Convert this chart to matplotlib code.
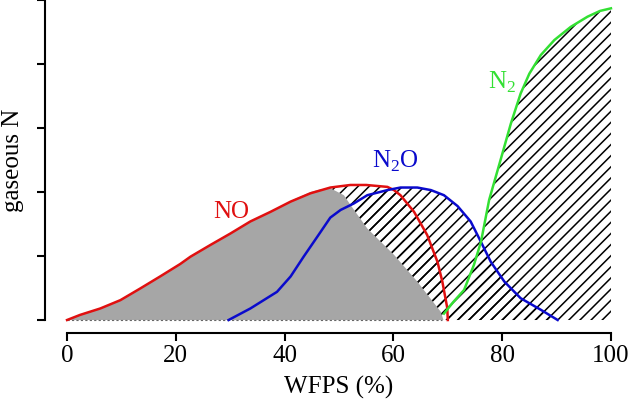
import numpy as np
import matplotlib
matplotlib.use('Agg')
import matplotlib.pyplot as plt

plt.rcParams['font.family'] = ['Liberation Serif', 'DejaVu Serif']
plt.rcParams['mathtext.fontset'] = 'custom'
plt.rcParams['mathtext.rm'] = 'Liberation Serif'
plt.rcParams['hatch.color'] = 'black'
plt.rcParams['hatch.linewidth'] = 1.1

# curves (x = WFPS %, y = arbitrary units)
no_x = [0, 2.4, 6.1, 9.8, 13.4, 17.1, 20.8, 22.7, 26.3, 30, 33.7, 37.4, 41.1, 44.75,
        48.4, 52.1, 55, 58.9, 60.1, 61.3, 63.8, 66.2, 68.1, 69.0, 69.9, 70]
no_y = [0, 0.08, 0.18, 0.31, 0.49, 0.68, 0.875, 0.99, 1.17, 1.35, 1.54, 1.69, 1.85, 1.98,
        2.07, 2.11, 2.11, 2.08, 2.03, 1.95, 1.69, 1.33, 0.91, 0.60, 0.19, 0]

n2o_x = [29.7, 33.7, 38.6, 41.1, 43.5, 46, 48.4, 50.3, 52.7, 55.2, 58.9, 61.3, 64.4, 66.9,
         69.3, 71.8, 74.2, 76.1, 77.9, 80.4, 83.4, 87.1, 90.2]
n2o_y = [0, 0.18, 0.44, 0.68, 0.99, 1.30, 1.60, 1.72, 1.82, 1.95, 2.03, 2.07, 2.07, 2.03,
         1.95, 1.78, 1.54, 1.22, 0.91, 0.60, 0.34, 0.16, 0]

n2_x = [69.3, 71, 73, 74.8, 76.1, 77.6, 79.7, 81.6, 83.4, 85, 87.1, 89.6, 92.6, 95.7, 98, 100]
n2_y = [0.10, 0.28, 0.47, 0.86, 1.22, 1.875, 2.5, 3.07, 3.54, 3.85, 4.14, 4.375, 4.58, 4.74, 4.83, 4.87]

gray_x = [0, 2.4, 6.1, 9.8, 13.4, 17.1, 20.8, 22.7, 26.3, 30, 33.7, 37.4, 41.1, 44.75,
          46.5, 48.4, 50.9, 52.1, 55.2, 60.1, 64.4, 68.7, 69.2]
gray_y = [0, 0.08, 0.18, 0.31, 0.49, 0.68, 0.875, 0.99, 1.17, 1.35, 1.54, 1.69, 1.86, 2.0,
          2.04, 2.06, 1.95, 1.80, 1.43, 1.02, 0.60, 0.13, 0]

xticks = [0, 20, 40, 60, 80, 100]
yticks = [0, 1, 2, 3, 4, 5]

red = '#e01010'
blue = '#0a0acc'
green = '#33e033'

fig = plt.figure(figsize=(6.3, 4.08), dpi=100)
ax = fig.add_axes([0.0719, 0.1843, 0.9324, 0.847])

# hatched area under all three curves, grey area drawn over it
for xs, ys in [(no_x, no_y), (n2o_x, n2o_y), (n2_x + [100], n2_y + [0])]:
    ax.fill_between(xs, ys, 0, facecolor='none', edgecolor='black', linewidth=0, hatch='///', zorder=1)
ax.fill_between(gray_x, gray_y, 0, facecolor='#a6a6a6', edgecolor='none', zorder=2)
ax.plot([0, 69], [0, 0], color='#666666', lw=0.8, dashes=(2, 2), zorder=2.5)

ax.plot(no_x, no_y, color=red, lw=1.8, zorder=3, solid_joinstyle='round')
ax.plot(n2o_x, n2o_y, color=blue, lw=1.8, zorder=3, solid_joinstyle='round')
ax.plot(n2_x, n2_y, color=green, lw=1.8, zorder=3, solid_joinstyle='round')

ax.text(30.15, 1.6, 'NO', color=red, fontsize=18, ha='center', va='baseline')
ax.text(60.4, 2.38, r'N$_2$O', color=blue, fontsize=18, ha='center', va='baseline')
ax.text(80.0, 3.62, r'N$_2$', color=green, fontsize=18, ha='center', va='baseline')

ax.set_xlim(-4, 104)
ax.set_ylim(-0.2, 5.2)
ax.spines['top'].set_visible(False)
ax.spines['right'].set_visible(False)
ax.spines['left'].set_bounds(0, 5)
ax.spines['bottom'].set_bounds(0, 100)
ax.spines['left'].set_linewidth(1.5)
ax.spines['bottom'].set_linewidth(1.5)
ax.set_xticks(xticks)
ax.set_yticks(yticks)
ax.set_yticklabels([])
ax.tick_params(axis='both', length=5.5, width=1.5, labelsize=18, pad=3.5)

ax.set_xlabel('WFPS (%)', fontsize=18)
ax.xaxis.set_label_coords(0.5, -0.125)
ax.set_ylabel('gaseous N', fontsize=18)
ax.yaxis.set_label_coords(-0.0366, 0.5)

fig.savefig('out.png', dpi=100)
